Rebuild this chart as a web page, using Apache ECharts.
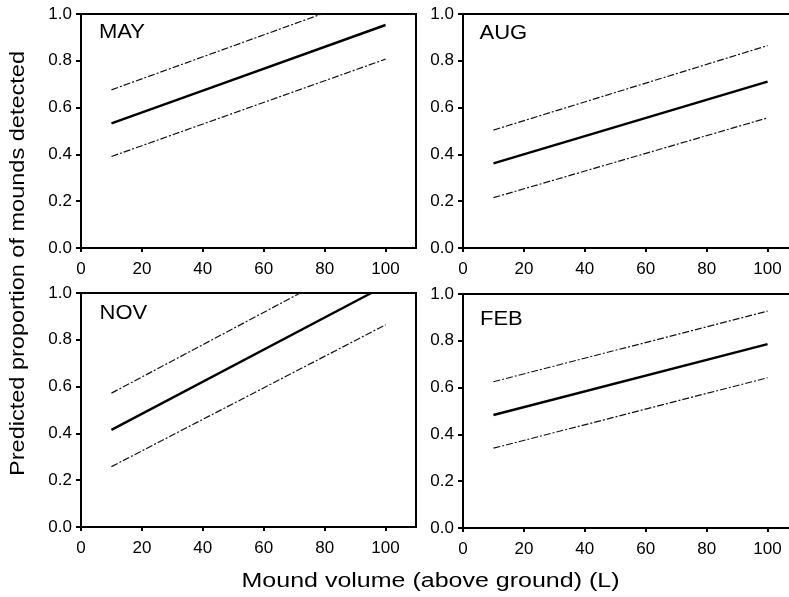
<!DOCTYPE html>
<html><head><meta charset="utf-8">
<script src="https://cdn.jsdelivr.net/npm/echarts@6/dist/echarts.min.js"></script>
<style>html,body{margin:0;padding:0;background:#fff}#c{width:789px;height:597px}</style>
</head><body><div id="c"></div>
<script>
// ---- data ----
const panelNames = ['MAY', 'AUG', 'NOV', 'FEB'];
const xTickValues = [0, 20, 40, 60, 80, 100];
const yTickValues = [0, 0.2, 0.4, 0.6, 0.8, 1.0];

const mayFit   = [[10, 0.533], [40, 0.673], [100, 0.953]];
const mayUpper = [[10, 0.676], [79, 1.0]];
const mayLower = [[10, 0.391], [100, 0.807]];

const augFit   = [[10, 0.362], [100, 0.711]];
const augUpper = [[10, 0.504], [100, 0.865]];
const augLower = [[10, 0.215], [100, 0.556]];

const novFit   = [[10, 0.415], [95.3, 1.0]];
const novUpper = [[10, 0.572], [72, 1.0]];
const novLower = [[10, 0.258], [100, 0.864]];

const febFit   = [[10, 0.483], [100, 0.786]];
const febUpper = [[10, 0.625], [100, 0.927]];
const febLower = [[10, 0.341], [100, 0.642]];

const panelSeries = [
  [mayFit, mayUpper, mayLower],
  [augFit, augUpper, augLower],
  [novFit, novUpper, novLower],
  [febFit, febUpper, febLower]
];

// ---- layout / style ----
const FONT = '"Liberation Sans", Arial, Helvetica, sans-serif';
const grids = [
  {left: 81,  top: 14,  width: 335, height: 234},
  {left: 463, top: 14,  width: 335, height: 234},
  {left: 81,  top: 293, width: 335, height: 234},
  {left: 463, top: 294, width: 335, height: 234}
];
const labelPos = [[99, 32.5], [479.5, 33], [99.5, 313], [480, 319]];

const chart = echarts.init(document.getElementById('c'), null, {renderer: 'canvas'});

const option = {
  animation: false,
  backgroundColor: '#fff',
  grid: grids.map(g => Object.assign({show: true, borderColor: '#000', borderWidth: 2,
    backgroundColor: 'transparent', containLabel: false, outerBoundsMode: 'none'}, g)),
  xAxis: grids.map((g, i) => ({
    type: 'value', gridIndex: i, min: 0, max: 110, interval: 20,
    axisLine: {show: true, onZero: false, lineStyle: {color: '#000', width: 2}},
    axisTick: {show: true, inside: false, length: 4, customValues: xTickValues, lineStyle: {color: '#000', width: 2}},
    axisLabel: {customValues: xTickValues, color: '#000', fontSize: 17, fontFamily: FONT, margin: 13},
    splitLine: {show: false}
  })),
  yAxis: grids.map((g, i) => ({
    type: 'value', gridIndex: i, min: 0, max: 1, interval: 0.2,
    axisLine: {show: true, onZero: false, lineStyle: {color: '#000', width: 2}},
    axisTick: {show: true, inside: false, length: 5, customValues: yTickValues, lineStyle: {color: '#000', width: 2}},
    axisLabel: {customValues: yTickValues, color: '#000', fontSize: 17, fontFamily: FONT, margin: 9,
      formatter: v => v.toFixed(1)},
    splitLine: {show: false}
  })),
  series: [],
  graphic: []
};

panelSeries.forEach((set, i) => {
  set.forEach((data, k) => {
    option.series.push({
      type: 'line', xAxisIndex: i, yAxisIndex: i, data: data,
      symbol: 'none', silent: true, clip: true,
      lineStyle: k === 0
        ? {color: '#000', width: 2.4, type: 'solid'}
        : {color: '#111', width: 1.2, type: [7, 2, 2, 2]}
    });
  });
  option.graphic.push({
    type: 'text', x: labelPos[i][0], y: labelPos[i][1], scaleX: 1.1,
    style: {text: panelNames[i], font: '20px ' + FONT, fill: '#000', textAlign: 'left', textVerticalAlign: 'middle'}
  });
});

option.graphic.push({
  type: 'text', x: 18.5, y: 263.5, rotation: Math.PI / 2, scaleX: 1.12,
  style: {text: 'Predicted proportion of mounds detected', font: '21px ' + FONT, fill: '#000',
    textAlign: 'center', textVerticalAlign: 'middle'}
});
option.graphic.push({
  type: 'text', x: 430.5, y: 581, scaleX: 1.25,
  style: {text: 'Mound volume (above ground) (L)', font: '20px ' + FONT, fill: '#000',
    textAlign: 'center', textVerticalAlign: 'middle'}
});

chart.setOption(option);
</script>
</body></html>
